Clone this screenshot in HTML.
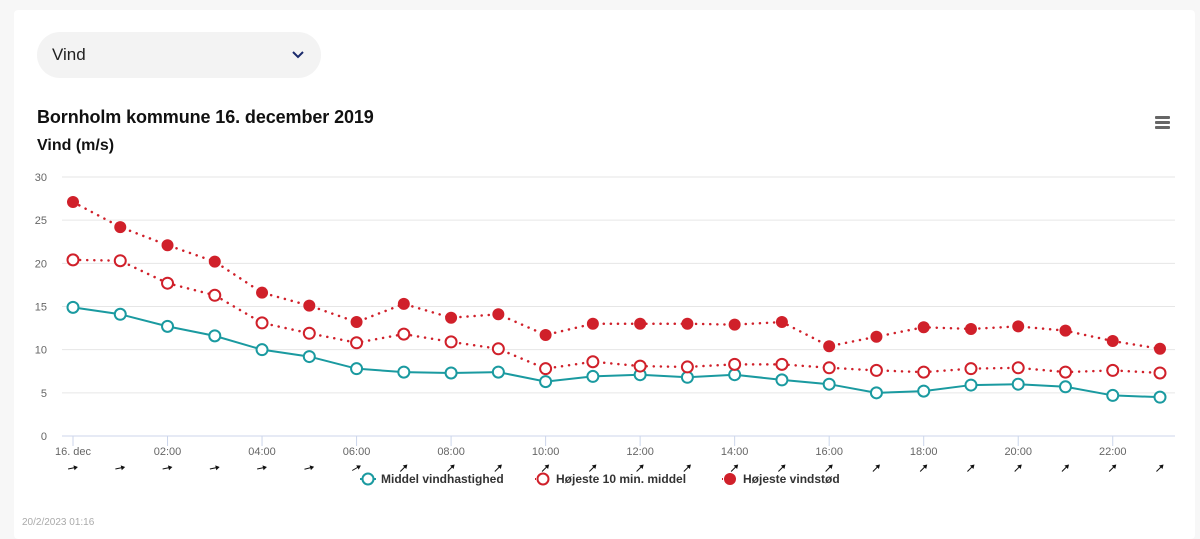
<!DOCTYPE html>
<html><head><meta charset="utf-8"><style>
body{margin:0;width:1200px;height:539px;background:#f7f7f7;font-family:"Liberation Sans",sans-serif;overflow:hidden;position:relative}
#card{position:absolute;left:14px;top:10px;width:1181px;height:529px;background:#fff;border-radius:4px}
#dd{position:absolute;left:37px;top:32px;width:284px;height:46px;background:#f3f3f3;border-radius:23px}
#dd span{position:absolute;left:15px;top:13px;font-size:17px;color:#222}
#title{position:absolute;left:37px;top:107px;font-size:18px;font-weight:bold;color:#111;letter-spacing:-0.1px}
#sub{position:absolute;left:37px;top:137px;font-size:16px;font-weight:bold;color:#111}
#foot{position:absolute;left:22px;top:517px;font-size:10px;color:#aaa}
svg{position:absolute;left:0;top:0}
</style></head><body>
<div id="card"></div>
<div id="dd"><span>Vind</span>
<svg width="284" height="46"><polyline points="256,20 261,25 266,20" fill="none" stroke="#1a2a6c" stroke-width="2"/></svg></div>
<div id="title">Bornholm kommune 16. december 2019</div>
<div id="sub">Vind (m/s)</div>
<div id="foot">20/2/2023 01:16</div>
<svg id="chart" width="1200" height="539"></svg>
<script>
const hours=["16. dec","01:00","02:00","03:00","04:00","05:00","06:00","07:00","08:00","09:00","10:00","11:00","12:00","13:00","14:00","15:00","16:00","17:00","18:00","19:00","20:00","21:00","22:00","23:00"];
const meanWind=[14.9,14.1,12.7,11.6,10.0,9.2,7.8,7.4,7.3,7.4,6.3,6.9,7.1,6.8,7.1,6.5,6.0,5.0,5.2,5.9,6.0,5.7,4.7,4.5];
const max10=[20.4,20.3,17.7,16.3,13.1,11.9,10.8,11.8,10.9,10.1,7.8,8.6,8.1,8.0,8.3,8.3,7.9,7.6,7.4,7.8,7.9,7.4,7.6,7.3];
const gust=[27.1,24.2,22.1,20.2,16.6,15.1,13.2,15.3,13.7,14.1,11.7,13.0,13.0,13.0,12.9,13.2,10.4,11.5,12.6,12.4,12.7,12.2,11.0,10.1];
const arrowAngle=[-12,-12,-12,-12,-12,-15,-30,-45,-45,-45,-45,-45,-45,-45,-45,-45,-45,-45,-45,-45,-45,-45,-45,-45];
const yTicks=[0,5,10,15,20,25,30];
const NS="http://www.w3.org/2000/svg";
const svg=document.getElementById('chart');
const x=i=>73+i*(1160-73)/23;
const y=v=>436-v*(436-177)/30;
function mk(t,a,p){const e=document.createElementNS(NS,t);for(const k in a)e.setAttribute(k,a[k]);(p||svg).appendChild(e);return e;}
yTicks.forEach(v=>{
 const l=mk('line',{x1:62,x2:1175,y1:y(v),y2:y(v),stroke:v?'#e6e6e6':'#ccd6eb'});
 
 
 const t=mk('text',{x:47,y:y(v)+4,'text-anchor':'end','font-size':11,fill:'#666'});t.textContent=v;
 
 
});
hours.forEach((h,i)=>{
 if(i%2===0){
  mk('line',{x1:x(i),x2:x(i),y1:436,y2:446,stroke:'#ccd6eb'});
  const t=mk('text',{x:x(i),y:455,'text-anchor':'middle','font-size':11,fill:'#666'});t.textContent=h;
  
  
 }
 const g=mk('g',{transform:`translate(${x(i)},468) rotate(${arrowAngle[i]})`});
 
 
 mk('line',{x1:-5,x2:3,y1:0,y2:0,stroke:'#111','stroke-width':1});
 g.lastChild||0;
 g.appendChild(svg.lastChild);
 mk('polygon',{points:'5,0 1,-2.5 1,2.5',fill:'#111'},g);
});
function series(data,color,dash,filled,name){
 const p=mk('polyline',{points:data.map((v,i)=>x(i)+','+y(v)).join(' '),fill:'none',stroke:color,'stroke-width':dash?2.5:2,'stroke-dasharray':dash?'0.1,7':'none','stroke-linecap':'round'});
 
 
 data.forEach((v,i)=>{
  const c=mk('circle',{cx:x(i),cy:y(v),r:filled?6:5.5,fill:filled?color:'#fff',stroke:color,'stroke-width':filled?0:2});
  
  
 });
}
series(meanWind,'#1a9aa0',false,false,'mean-wind');
series(max10,'#d0202a',true,false,'max-10min');
series(gust,'#d0202a',true,true,'gust');
const legend=[["Middel vindhastighed",'#1a9aa0',false,false,368],["Højeste 10 min. middel",'#d0202a',true,false,543],["Højeste vindstød",'#d0202a',true,true,730]];
legend.forEach(([lab,c,d,f,lx])=>{
 const g=mk('g',{});
 
 
 mk('line',{x1:lx-8,x2:lx+8,y1:479,y2:479,stroke:c,'stroke-width':2,'stroke-dasharray':d?'1,3':'none'},g);
 mk('circle',{cx:lx,cy:479,r:f?6:5.5,fill:f?c:'#fff',stroke:c,'stroke-width':f?0:2},g);
 const t=mk('text',{x:lx+13,y:483,'font-size':12,'font-weight':'bold',fill:'#333'},g);t.textContent=lab;
});
const m=mk('g',{});


[116,121,126].forEach(yy=>mk('rect',{x:1155,y:yy,width:15,height:3,rx:1,fill:'#666'},m));
</script>
</body></html>
